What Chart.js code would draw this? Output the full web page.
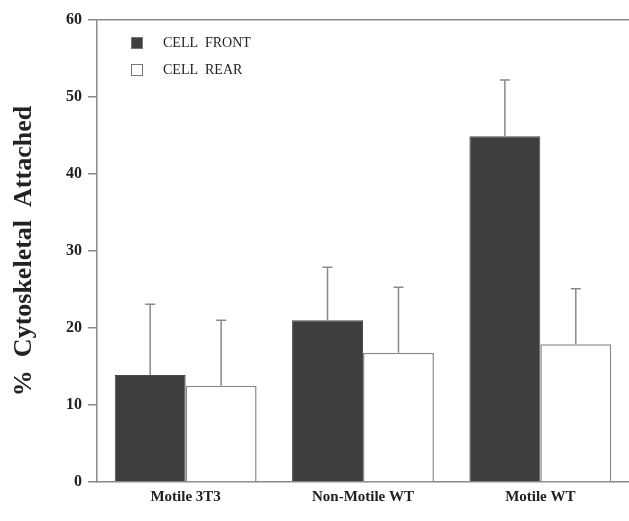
<!DOCTYPE html>
<html>
<head>
<meta charset="utf-8">
<script src="https://cdn.jsdelivr.net/npm/chart.js@4"></script>
<style>
html,body{margin:0;padding:0;background:#fff;}
#wrap{width:629px;height:521px;}
</style>
</head>
<body>
<div id="wrap"><canvas id="c" width="629" height="521"></canvas></div>
<script>
const categories = ["Motile 3T3", "Non-Motile WT", "Motile WT"];
const seriesNames = ["CELL  FRONT", "CELL  REAR"];
const frontValues = [13.9, 21.0, 44.9];
const rearValues = [12.5, 16.8, 17.9];
const frontErrors = [9.2, 6.9, 7.3];
const rearErrors = [8.5, 8.5, 7.2];
const yTicks = [0, 10, 20, 30, 40, 50, 60];

const serif = "'Liberation Serif', 'DejaVu Serif', serif";

const errorBarPlugin = {
  id: 'errorBars',
  afterDatasetsDraw(chart) {
    const ctx = chart.ctx;
    const ys = chart.scales.y;
    chart.data.datasets.forEach((ds, i) => {
      const meta = chart.getDatasetMeta(i);
      meta.data.forEach((bar, j) => {
        const v = ds.data[j];
        const e = ds.errors[j];
        const yTop = ys.getPixelForValue(v + e);
        const yBar = ys.getPixelForValue(v);
        ctx.save();
        ctx.strokeStyle = '#8a8a8a';
        ctx.lineWidth = 1.5;
        ctx.beginPath();
        ctx.moveTo(bar.x, yBar);
        ctx.lineTo(bar.x, yTop);
        ctx.moveTo(bar.x - 5, yTop);
        ctx.lineTo(bar.x + 5, yTop);
        ctx.stroke();
        ctx.restore();
      });
    });
  }
};

const legendPlugin = {
  id: 'insideLegend',
  afterDraw(chart) {
    const ctx = chart.ctx;
    const x0 = chart.chartArea.left + 34;
    let y0 = chart.chartArea.top + 17;
    chart.data.datasets.forEach((ds) => {
      ctx.save();
      ctx.fillStyle = ds.backgroundColor;
      ctx.strokeStyle = '#777';
      ctx.lineWidth = 1;
      ctx.fillRect(x0, y0, 12, 12);
      ctx.strokeRect(x0 + 0.5, y0 + 0.5, 11, 11);
      ctx.fillStyle = '#222';
      ctx.font = "14px " + serif;
      ctx.textBaseline = 'middle';
      ctx.fillText(ds.label, x0 + 32, y0 + 6);
      ctx.restore();
      y0 += 27;
    });
  }
};

new Chart(document.getElementById('c'), {
  type: 'bar',
  data: {
    labels: categories,
    datasets: [
      { label: seriesNames[0], data: frontValues, errors: frontErrors,
        backgroundColor: '#3e3e3e', borderColor: '#4a4a4a', borderWidth: 1,
        categoryPercentage: 0.8, barPercentage: 1.0 },
      { label: seriesNames[1], data: rearValues, errors: rearErrors,
        backgroundColor: '#ffffff', borderColor: '#8a8a8a', borderWidth: 1.5,
        categoryPercentage: 0.8, barPercentage: 1.0 }
    ]
  },
  options: {
    responsive: false,
    animation: false,
    layout: { padding: { top: 20, right: 0, left: 0, bottom: 0 } },
    plugins: { legend: { display: false }, tooltip: { enabled: false } },
    scales: {
      x: {
        grid: { display: false, drawTicks: false, tickLength: 0 },
        border: { color: '#8a8a8a', width: 1.5 },
        ticks: { color: '#222', font: { family: serif, size: 15, weight: 'bold' }, padding: 6 },
        afterFit(s) { s.height = 39; }
      },
      y: {
        min: 0, max: 60,
        afterBuildTicks(s) { s.ticks = yTicks.map(v => ({ value: v })); },
        grid: {
          color: (c) => (c.tick && c.tick.value === 60 ? '#8a8a8a' : 'rgba(0,0,0,0)'),
          tickColor: '#8a8a8a', tickLength: 9, lineWidth: 1.5
        },
        border: { color: '#8a8a8a', width: 1.5 },
        ticks: { color: '#222', font: { family: serif, size: 16, weight: 'bold' }, padding: 6 },
        title: {
          display: true, text: '%  Cytoskeletal  Attached', color: '#222',
          font: { family: serif, size: 26, weight: 'bold' }, padding: { top: 9, bottom: 0 }
        },
        afterFit(s) { s.width = 97; }
      }
    }
  },
  plugins: [errorBarPlugin, legendPlugin]
});
</script>
</body>
</html>
